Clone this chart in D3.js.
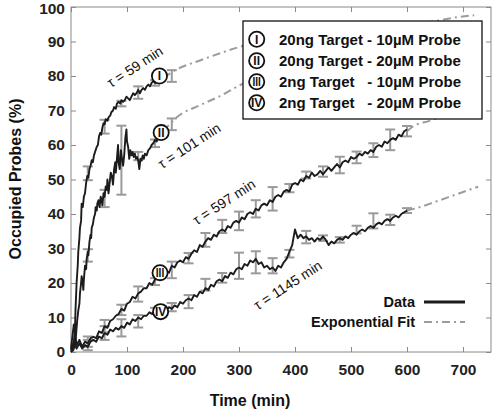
<!DOCTYPE html>
<html><head><meta charset="utf-8">
<script src="https://cdn.jsdelivr.net/npm/d3@7"></script>
<style>
html,body{margin:0;padding:0;background:#fff;}
svg{display:block;font-family:"Liberation Sans",Arial,Helvetica,sans-serif;}
</style></head>
<body>
<svg id="chart" width="492" height="410"></svg>
<script>
// ---------- data ----------
const xTicks = [0,100,200,300,400,500,600,700];
const yTicks = [0,10,20,30,40,50,60,70,80,90,100];

// Curve I: 20ng Target - 10µM Probe
const timeI = [0,3,5,7,8,10,12,13,15,16,18,19,21,23,25,27,29,31,33,35,37,39,41,43,46,48,50,52,54,56,58,60,62,65,67,70,72,75,77,80,82,85,88,90,93,96,99,102,105,108,111,114,117,120,123,126,129,132,135,138,141,144,147,150,153,156];
const valI  = [0,1,3,6,12,20,25,29,33,36,38,43,42,45,46,49,51,50.5,53,54,55.6,55,57,58,59.5,60,62.5,63.5,63,65,66.3,66,67.5,67,68,68.5,69.5,70,71,70.5,72,72.5,72,73,72.5,73,74,73.5,73,74,75,74.5,75,76,75,76,76.5,76,77,77.5,77,78,78.5,78,79,79.5];

// Curve II: 20ng Target - 20µM Probe
const timeII = [0,4,7,9,11,13,15,16,18,19,21,22,23,25,27,28,30,31,33,35,36,37,39,41,43,44,46,47,49,51,53,55,56,58,60,62,64,65,67,69,71,73,75,77,79,80,82,84,85,87,89,91,93,95,97,99,100,102,104,106,108,110,112,114,116,118,120,122,124,126,128,130,132,135,138,141,144,147,150,153,156];
const valII  = [0,0.5,2,5,9,12,14,17,20,22,20,18,21,25,24,27,29,28,32,34,33,36,37,39,40,42,41,43,44,42,45,44,42.5,46,45,48,47,50,46,49,52,51,48.5,53,55,52,56,60,55,53,58.5,56,54,57,62,64.5,61,59.5,56,58.5,57,58,56.5,57.5,56,56.5,55.5,53,56,55.5,57,56,57.5,57,58.5,59,60,60.5,61.5,61,62.5];

// Curves III and IV sampled every 5 min from 0 to 600
const timeIIIIV = d3.range(0, 601, 5);
const valIII = [1,8,2,3.5,1.5,3,2.5,4,4.4,4,6,5.5,7.5,7,9,9.5,10.5,11,12.5,12,14,14.5,16,15.5,17,17.5,18.5,18.5,20,19.5,21,21.5,22.5,22.5,23.5,23,25,24.5,26,26.5,26,27.5,27,28.5,29.5,29,31,30.5,32,33,32.5,34,33.5,35,35.5,35,36.5,36,37.5,38,37.5,39,38.5,40,40.5,40,41.5,41,42.5,43,42.5,44,43.5,45,45.5,45,46.5,47,46.5,48.5,49,48.5,50,49.5,51,50.5,52,51,51.5,52.5,51.5,52.5,53.5,52.5,53.5,54.5,53.5,55,55.5,55,56.5,56,56.5,57.5,57,58,57.5,58.5,58,59.5,60,59.5,61,60.5,61.5,62,61.5,63,62.5,64,64.5];
const valIV  = [0.5,3,1,2.5,1,2,1.5,3,3.5,3,4.5,4,5.5,5,6.5,6,7,6.5,7.5,7,8.5,8,9.5,9,10,9.5,10.5,10.5,11.5,11,12,11.5,12,12.5,12,13,12.5,13.5,13,14.5,14,15,15.5,15,16.5,16,17.5,17,18.5,18,19.5,19,20.5,21,20.5,22,21.5,23,22.5,24,24.5,24,25.5,25,26.5,26,27,25.5,26,24.5,25,24,24.5,23.5,25,24.5,26,27,29,31,35.5,33,34,33,33.5,32.5,33,32,33,32.5,33.5,32.5,31,32,31.5,32.5,33,32.5,33.5,33,34,34.5,34,35,35.5,35,36,36.5,36,37,37.5,37,38,38.5,38,39,39.5,39,40,40.5,41];

// Error bars (mean and half-width)
const errTimeShort = [30,60,90,120,150,180];
const errMeanI  = [51.8,65.3,72,75.2,78,80];
const errHalfI  = [2,2,0.8,1.8,0.8,1.7];
const errMeanII = [28,44.5,55.6,56.8,60.5,66];
const errHalfII = [1.8,2.5,10,1.2,1.1,1.7];
const errTimeLong = [30,60,90,120,150,180,210,240,270,300,330,360,390,420,450,480,510,540,570,600];
const errMeanIII = [3,7.5,12.2,16.8,20.4,23.8,27.2,32.5,36.4,38,41.5,44.4,47.5,51.3,52.3,54.2,56.4,58.5,61.5,64];
const errHalfIII = [1.5,1.8,1.5,2.2,1,2.4,1.5,2,1.9,2.7,2.5,3.4,1.2,1,1.5,2.4,1.7,2,3,1.5];
const errMeanIV  = [2,5.5,7,8.9,12,13,14.6,19.5,21.5,25,26,25,28.5,33.3,33,32.5,35.5,38,38.3,41];
const errHalfIV  = [1.5,2,2.5,1.8,0.8,1.2,1.9,1.7,1.4,3.8,3.2,2.2,1.1,1.8,0.8,0.8,1.1,2.2,1.5,0.7];

// Exponential fits
const fitTimeI = [165,190,230,270,305,350,400,450,500,550,600,650,680,720];
const fitValI  = [79.5,82,84.5,86.8,88.6,90.2,91.7,92.9,93.9,94.7,95.3,95.9,96.8,97.6];
const fitTimeII = [165,190,230,270,305,350,400,450,500,550,600,650,720];
const fitValII  = [64,68.2,71.5,74.5,77.6,79.5,81,82.3,83.2,84,84.6,85,85.5];
const fitTimeIII = [600,610,640,680,720];
const fitValIII  = [64,65.3,67,69,71];
const fitTimeIV = [600,615,650,690,727];
const fitValIV  = [41,41.6,43.5,45.8,47.9];

// Labels
const curveIds = ["I","II","III","IV"];
const markerT = [158,161,159,160];
const markerV = [80,63.6,23,11.7];
const tauText = ["τ = 59 min","τ = 101 min","τ = 597 min","τ = 1145 min"];
const tauT = [114,211,273,387];
const tauV = [82.7,59.8,43.5,19.4];
const legendLeft = ["20ng Target","20ng Target","2ng Target","2ng Target"];
const legendRight = ["- 10µM Probe","- 20µM Probe","- 10µM Probe","- 20µM Probe"];

// ---------- drawing ----------
const svg = d3.select("#chart");
const x = d3.scaleLinear().domain([0,750]).range([71,491]);
const y = d3.scaleLinear().domain([0,100]).range([352,7]);
const axisGray = "#8a8a8a", fitGray = "#9c9c9c", dataBlack = "#1c1c1c";

function styleAxis(g){
  g.select(".domain").remove();
  g.selectAll(".tick line").attr("stroke", axisGray).attr("stroke-width",1);
  g.selectAll("text").attr("fill","#222").attr("font-size","15.5px").attr("font-weight","bold");
}
svg.append("g").attr("transform",`translate(0,${y(0)})`)
  .call(d3.axisBottom(x).tickValues(xTicks).tickSizeInner(-5).tickSizeOuter(0).tickPadding(12).tickFormat(d3.format("d")))
  .call(styleAxis);
svg.append("g").attr("transform",`translate(0,${y(100)})`)
  .call(d3.axisTop(x).tickValues(xTicks).tickSizeInner(-5).tickSizeOuter(0).tickFormat(""))
  .call(styleAxis);
svg.append("g").attr("transform",`translate(${x(0)},0)`)
  .call(d3.axisLeft(y).tickValues(yTicks).tickSizeInner(-5).tickSizeOuter(0).tickPadding(6).tickFormat(d3.format("d")))
  .call(styleAxis)
  .call(g=>g.selectAll(".tick text").attr("dy", d=> d===100 ? "0.42em" : "0.32em"));
svg.append("g").attr("transform",`translate(${x(750)},0)`)
  .call(d3.axisRight(y).tickValues(yTicks).tickSizeInner(-5).tickSizeOuter(0).tickFormat(""))
  .call(styleAxis);
svg.append("rect").attr("x",x(0)).attr("y",y(100)).attr("width",x(750)-x(0)).attr("height",y(0)-y(100))
  .attr("fill","none").attr("stroke",axisGray).attr("stroke-width",1);

const line = d3.line().x(d=>x(d[0])).y(d=>y(d[1]));
const zip = (a,b)=>a.map((t,i)=>[t,b[i]]);

// fits
[[fitTimeI,fitValI],[fitTimeII,fitValII],[fitTimeIII,fitValIII],[fitTimeIV,fitValIV]].forEach(([t,v])=>{
  svg.append("path").attr("d", d3.line().curve(d3.curveMonotoneX).x(d=>x(d[0])).y(d=>y(d[1]))(zip(t,v)))
    .attr("fill","none").attr("stroke",fitGray).attr("stroke-width",2).attr("stroke-dasharray","8,4,2,4");
});

// error bars
function errorBars(ts, m, h){
  const g = svg.append("g").attr("stroke","#9a9a9a").attr("stroke-width",2).attr("fill","none");
  ts.forEach((t,i)=>{
    const cx = x(t), y1 = y(m[i]+h[i]), y2 = y(m[i]-h[i]);
    g.append("line").attr("x1",cx).attr("x2",cx).attr("y1",y1).attr("y2",y2);
    g.append("line").attr("x1",cx-5).attr("x2",cx+5).attr("y1",y1).attr("y2",y1);
    g.append("line").attr("x1",cx-5).attr("x2",cx+5).attr("y1",y2).attr("y2",y2);
  });
}
errorBars(errTimeShort, errMeanI, errHalfI);
errorBars(errTimeShort, errMeanII, errHalfII);
errorBars(errTimeLong, errMeanIII, errHalfIII);
errorBars(errTimeLong, errMeanIV, errHalfIV);

// data lines
[[timeI,valI],[timeII,valII],[timeIIIIV,valIII],[timeIIIIV,valIV]].forEach(([t,v])=>{
  svg.append("path").attr("d", line(zip(t,v))).attr("fill","none")
    .attr("stroke",dataBlack).attr("stroke-width",1.9).attr("stroke-linejoin","round");
});

// circled markers
function circled(g, cx, cy, label){
  g.append("circle").attr("cx",cx).attr("cy",cy).attr("r",7.6)
    .attr("fill","#fff").attr("stroke","#111").attr("stroke-width",1.8);
  const t = g.append("text").attr("x",cx).attr("y",cy+4.2).attr("text-anchor","middle")
    .attr("font-size","12px").attr("fill","#111").attr("font-weight","bold").text(label);
  if(label.length>2) t.attr("textLength",8.5).attr("lengthAdjust","spacingAndGlyphs");
}
const mk = svg.append("g");
curveIds.forEach((id,i)=>circled(mk, x(markerT[i]), y(markerV[i]), id));

// tau annotations
tauText.forEach((s,i)=>{
  const px = x(tauT[i]), py = y(tauV[i]);
  svg.append("text").attr("transform",`translate(${px},${py}) rotate(-33)`)
    .attr("text-anchor","middle").attr("dy","0.35em")
    .attr("font-size","14px").attr("fill","#111").text(s);
});

// legend box
const lg = svg.append("g");
lg.append("rect").attr("x",243).attr("y",21).attr("width",239).attr("height",98)
  .attr("fill","#fff").attr("stroke","#111").attr("stroke-width",1.3);
const rowY = [39.3,60.7,81.7,102.7];
curveIds.forEach((id,i)=>{
  circled(lg, 256.7, rowY[i], id);
  if(i<2){
    lg.append("text").attr("x",279).attr("y",rowY[i]+5.3).attr("font-size","15px").attr("font-weight","bold")
      .attr("fill","#111").text(legendLeft[i]+" "+legendRight[i]);
  } else {
    lg.append("text").attr("x",279).attr("y",rowY[i]+5.3).attr("font-size","15px").attr("font-weight","bold")
      .attr("fill","#111").text(legendLeft[i]);
    lg.append("text").attr("x",461).attr("y",rowY[i]+5.3).attr("text-anchor","end").attr("font-size","15px").attr("font-weight","bold")
      .attr("fill","#111").text(legendRight[i]);
  }
});

// second legend
const lg2 = svg.append("g");
lg2.append("text").attr("x",415).attr("y",307).attr("text-anchor","end").attr("font-size","14.5px")
  .attr("font-weight","bold").attr("fill","#111").text("Data");
lg2.append("line").attr("x1",424).attr("x2",465).attr("y1",302).attr("y2",302)
  .attr("stroke",dataBlack).attr("stroke-width",3);
lg2.append("text").attr("x",415).attr("y",327).attr("text-anchor","end").attr("font-size","14.5px")
  .attr("font-weight","bold").attr("fill","#111").text("Exponential Fit");
lg2.append("line").attr("x1",424).attr("x2",465).attr("y1",322).attr("y2",322)
  .attr("stroke",fitGray).attr("stroke-width",2).attr("stroke-dasharray","8,4,2,4");

// axis titles
svg.append("text").attr("x",250).attr("y",406).attr("text-anchor","middle")
  .attr("font-size","16px").attr("font-weight","bold").attr("fill","#111").text("Time (min)");
svg.append("text").attr("transform","translate(21,179) rotate(-90)").attr("text-anchor","middle")
  .attr("font-size","16px").attr("font-weight","bold").attr("fill","#111").text("Occupied Probes (%)");
</script>
</body></html>
